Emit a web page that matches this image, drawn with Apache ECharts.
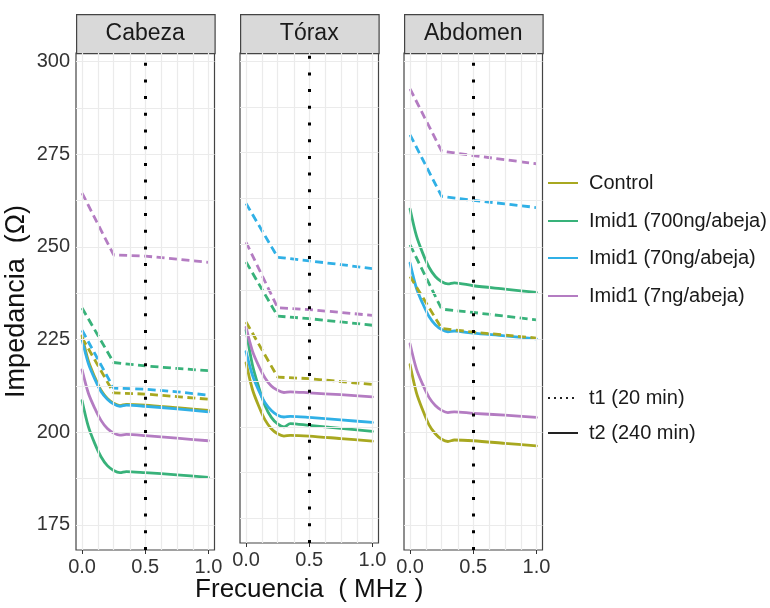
<!DOCTYPE html>
<html>
<head>
<meta charset="utf-8">
<script src="https://cdn.jsdelivr.net/npm/echarts@6/dist/echarts.min.js"></script>
<style>
html,body{margin:0;padding:0;background:#fff;}
#chart{width:770px;height:608px;}
</style>
</head>
<body>
<div id="chart"></div>
<script>
// ---------- DATA ----------
const panels = ['Cabeza', 'Tórax', 'Abdomen'];
const groups = ['Control', 'Imid1 (700ng/abeja)', 'Imid1 (70ng/abeja)', 'Imid1 (7ng/abeja)'];
const times = ['t1 (20 min)', 't2 (240 min)'];
const xTickLabels = [0, 0.5, 1.0];
const yTickLabels = [175, 200, 225, 250, 275, 300];
const refFreq = 0.5;

// frequency (MHz) sample points
const xSolid  = [0, 0.05, 0.1, 0.15, 0.2, 0.25, 0.3, 0.35, 0.5, 0.75, 1.0];
const xDashed = [0, 0.25, 0.5, 0.75, 1.0];

// t2 (240 min) — solid
const cabeza_t2_control = [226.0, 219.2, 214.9, 211.3, 209.1, 207.8, 207.2, 207.5, 207.3, 206.6, 205.9];
const cabeza_t2_700     = [208.5, 201.5, 197.0, 193.4, 191.0, 189.7, 189.1, 189.4, 189.1, 188.5, 187.8];
const cabeza_t2_70      = [225.0, 218.5, 214.4, 211.0, 208.9, 207.6, 207.0, 207.3, 207.0, 206.3, 205.5];
const cabeza_t2_7       = [216.8, 210.5, 206.5, 203.2, 201.0, 199.8, 199.2, 199.4, 199.1, 198.4, 197.7];

const torax_t2_control  = [217.5, 210.3, 205.7, 201.9, 199.5, 198.1, 197.5, 197.7, 197.5, 196.8, 196.1];
const torax_t2_700      = [226.5, 217.0, 210.9, 205.8, 202.6, 200.8, 200.0, 200.9, 200.4, 199.6, 198.8];
const torax_t2_70       = [220.6, 214.2, 210.0, 206.6, 204.5, 203.2, 202.7, 202.9, 202.6, 201.9, 201.25];
const torax_t2_7        = [227.2, 220.8, 216.7, 213.4, 211.2, 210.0, 209.4, 209.6, 209.3, 208.8, 208.2];

const abdomen_t2_control = [218.2, 210.7, 206.0, 202.0, 199.6, 198.1, 197.5, 197.9, 197.7, 197.0, 196.3];
const abdomen_t2_700     = [260.2, 253.0, 248.3, 244.5, 242.0, 240.6, 240.0, 240.3, 239.5, 238.6, 237.7];
const abdomen_t2_70      = [245.6, 238.9, 234.7, 231.2, 229.0, 227.7, 227.1, 227.3, 226.7, 226.0, 225.2];
const abdomen_t2_7       = [223.8, 217.1, 212.9, 209.4, 207.2, 205.9, 205.3, 205.5, 205.1, 204.6, 204.0];

// t1 (20 min) — dashed
const cabeza_t1_control = [225.5, 210.6, 210.3, 209.6, 208.9];
const cabeza_t1_700     = [233.5, 218.8, 217.9, 217.2, 216.6];
const cabeza_t1_70      = [227.5, 211.9, 211.6, 210.9, 210.0];
const cabeza_t1_7       = [264.5, 247.8, 247.5, 246.7, 245.8];

const torax_t1_control  = [228.7, 213.6, 213.2, 212.4, 211.6];
const torax_t1_700      = [245.1, 230.3, 229.6, 228.7, 227.8];
const torax_t1_70       = [261.1, 246.4, 245.4, 244.4, 243.3];
const torax_t1_7        = [250.5, 232.6, 232.1, 231.3, 230.5];

const abdomen_t1_control = [242.0, 228.0, 227.0, 226.2, 225.4];
const abdomen_t1_700     = [250.5, 233.2, 232.3, 231.3, 230.3];
const abdomen_t1_70      = [280.2, 263.6, 262.5, 261.6, 260.6];
const abdomen_t1_7       = [292.6, 275.8, 274.6, 273.5, 272.4];

const solidData = [
  [cabeza_t2_control, cabeza_t2_700, cabeza_t2_70, cabeza_t2_7],
  [torax_t2_control, torax_t2_700, torax_t2_70, torax_t2_7],
  [abdomen_t2_control, abdomen_t2_700, abdomen_t2_70, abdomen_t2_7]
];
const dashedData = [
  [cabeza_t1_control, cabeza_t1_700, cabeza_t1_70, cabeza_t1_7],
  [torax_t1_control, torax_t1_700, torax_t1_70, torax_t1_7],
  [abdomen_t1_control, abdomen_t1_700, abdomen_t1_70, abdomen_t1_7]
];

// ---------- STYLE ----------
const colors = ['#A8A820', '#38B27A', '#30B0E6', '#B47CC2'];
const FONT = "'Liberation Sans', Arial, sans-serif";
const xMin = -0.048, xMax = 1.048;
const yMin = 168.24, yMax = 302.27;
const gridLefts = [76, 240, 404];
const gridW = 138.5;
const gridTop = 53, gridH = 497;
const xGridLines = [0, 0.125, 0.25, 0.375, 0.5, 0.625, 0.75, 0.875, 1.0];
const yGridLines = [175, 187.5, 200, 212.5, 225, 237.5, 250, 262.5, 275, 287.5, 300];

const grids = [], xAxes = [], yAxes = [], series = [], graphics = [];

panels.forEach((name, p) => {
  grids.push({
    left: gridLefts[p], top: gridTop, width: gridW, height: gridH,
    show: true, borderColor: '#444', borderWidth: 1.2, backgroundColor: '#fff'
  });
  xAxes.push({
    type: 'value', gridIndex: p, min: xMin, max: xMax,
    axisLine: { show: false },
    splitLine: { show: false },
    axisTick: { show: true, customValues: xTickLabels, length: 4, lineStyle: { color: '#333', width: 1 } },
    axisLabel: {
      customValues: xTickLabels, margin: 7,
      formatter: v => v.toFixed(1),
      fontFamily: FONT, fontSize: 20, color: '#333'
    },
    name: p === 1 ? 'Frecuencia  ( MHz )' : '',
    nameLocation: 'middle', nameGap: 34,
    nameTextStyle: { fontFamily: FONT, fontSize: 26, color: '#111' }
  });
  yAxes.push({
    type: 'value', gridIndex: p, min: yMin, max: yMax,
    axisLine: { show: false },
    splitLine: { show: false },
    axisTick: { show: p === 0, customValues: yTickLabels, length: 4, lineStyle: { color: '#333', width: 1 } },
    axisLabel: {
      show: p === 0, customValues: yTickLabels, margin: 6,
      fontFamily: FONT, fontSize: 20, color: '#333'
    },
    name: p === 0 ? 'Impedancia  (Ω)' : '',
    nameLocation: 'middle', nameGap: 46,
    nameTextStyle: { fontFamily: FONT, fontSize: 27, color: '#111' }
  });

  // background grid lines
  series.push({
    type: 'line', xAxisIndex: p, yAxisIndex: p, data: [], z: 1, silent: true,
    markLine: {
      silent: true, symbol: ['none', 'none'], label: { show: false },
      lineStyle: { color: '#EBEBEB', width: 1.2, type: 'solid' },
      emphasis: { disabled: true },
      data: xGridLines.map(v => ({ xAxis: v })).concat(yGridLines.map(v => ({ yAxis: v })))
    }
  });

  // solid (t2)
  groups.forEach((g, gi) => {
    series.push({
      name: g + ' ' + times[1], type: 'line', xAxisIndex: p, yAxisIndex: p, z: 3,
      showSymbol: false, smooth: 0.3,
      lineStyle: { color: colors[gi], width: 2.8, type: 'solid', cap: 'round', join: 'round' },
      data: xSolid.map((x, i) => [x, solidData[p][gi][i]])
    });
  });
  // dashed (t1)
  groups.forEach((g, gi) => {
    series.push({
      name: g + ' ' + times[0], type: 'line', xAxisIndex: p, yAxisIndex: p, z: 4,
      showSymbol: false, smooth: false,
      lineStyle: { color: colors[gi], width: 2.8, type: [8, 4.5], join: 'round' },
      data: xDashed.map((x, i) => [x, dashedData[p][gi][i]])
    });
  });

  // reference vertical dotted line
  series.push({
    type: 'line', xAxisIndex: p, yAxisIndex: p, data: [], z: 6, silent: true,
    markLine: {
      silent: true, symbol: ['none', 'none'], label: { show: false },
      lineStyle: { color: '#000', width: 3, type: [3, 13.7] },
      emphasis: { disabled: true },
      data: [{ xAxis: refFreq }]
    }
  });

  // facet strip
  graphics.push({
    type: 'rect', left: gridLefts[p], top: 14,
    shape: { width: gridW, height: 39 },
    style: { fill: '#D9D9D9', stroke: '#444', lineWidth: 1.2 }
  });
  graphics.push({
    type: 'text', x: gridLefts[p] + gridW / 2, y: 34,
    style: { text: name, fill: '#1a1a1a', font: '23px ' + FONT, align: 'center', verticalAlign: 'middle' }
  });
});

// legend (drawn)
const legY = [183, 221, 258, 296];
groups.forEach((g, gi) => {
  graphics.push({ type: 'line', shape: { x1: 548, y1: legY[gi], x2: 578, y2: legY[gi] },
    style: { stroke: colors[gi], lineWidth: 2 } });
  graphics.push({ type: 'text', x: 589, y: legY[gi],
    style: { text: g, fill: '#1a1a1a', font: '20px ' + FONT, verticalAlign: 'middle' } });
});
const legT = [398, 433];
times.forEach((t, ti) => {
  graphics.push({ type: 'line', shape: { x1: 548, y1: legT[ti], x2: 578, y2: legT[ti] },
    style: { stroke: '#222', lineWidth: 2, lineDash: ti === 0 ? [2, 4] : null } });
  graphics.push({ type: 'text', x: 589, y: legT[ti],
    style: { text: t, fill: '#1a1a1a', font: '20px ' + FONT, verticalAlign: 'middle' } });
});

const chart = echarts.init(document.getElementById('chart'), null, { renderer: 'canvas' });
chart.setOption({
  animation: false,
  backgroundColor: '#fff',
  grid: grids, xAxis: xAxes, yAxis: yAxes, series: series,
  graphic: graphics
});
</script>
</body>
</html>
